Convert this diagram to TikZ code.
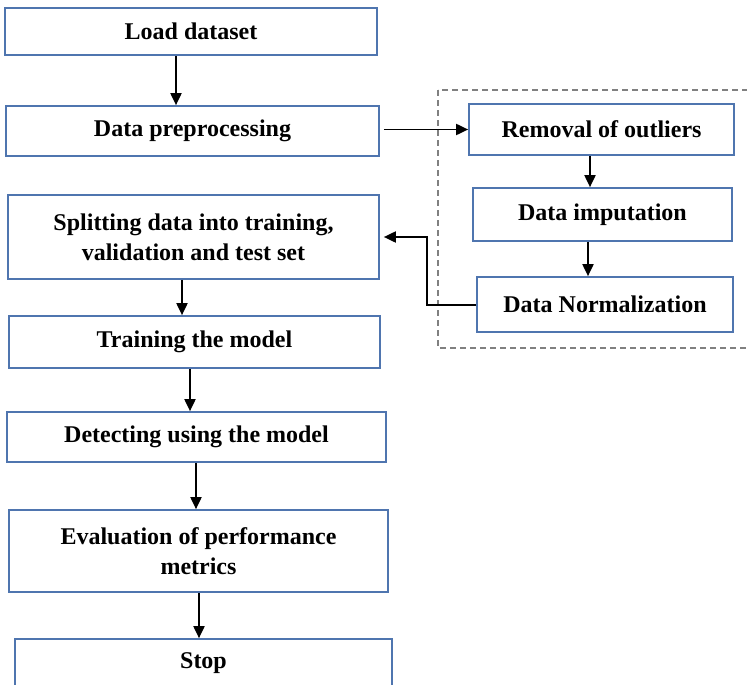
\documentclass[tikz,border=0pt]{standalone}
\usepackage{fontspec}
\setmainfont{Liberation Serif}
\usetikzlibrary{arrows.meta}
\definecolor{boxblue}{RGB}{79,117,175}
\definecolor{dashgray}{RGB}{128,128,128}
\tikzset{
  stepbox/.style={draw=boxblue, line width=1.7pt, fill=white, inner sep=0pt,
    align=center, font=\bfseries\fontsize{24}{30}\selectfont, text=black},
  arr/.style={line width=1.9pt, draw=black, -{Triangle[length=12pt,width=11pt]}},
  dashbox/.style={draw=dashgray, line width=1.2pt, dash pattern=on 6pt off 4pt}
}
\begin{document}
\begin{tikzpicture}[x=1pt,y=-1pt]
\useasboundingbox (0,0) rectangle (747,685);
\clip (0,0) rectangle (747,685);
\fill[white] (0,0) rectangle (747,685);
\draw[dashbox] (438,90) rectangle (770,348);
\node[stepbox, minimum width=372pt, minimum height=47pt] (load) at (191,31.5) {Load dataset};
\node[stepbox, minimum width=373pt, minimum height=50pt] (prep) at (192.5,131) {Data preprocessing};
\node[stepbox, minimum width=371pt, minimum height=84pt] (split) at (193.5,237) {Splitting data into training,\\validation and test set};
\node[stepbox, minimum width=371pt, minimum height=52pt] (train) at (194.5,342) {Training the model};
\node[stepbox, minimum width=379pt, minimum height=50pt] (detect) at (196.5,437) {Detecting using the model};
\node[stepbox, minimum width=379pt, minimum height=82pt] (eval) at (198.5,551) {Evaluation of performance\\metrics};
\node[stepbox, minimum width=377pt, minimum height=48pt] (stop) at (203.5,663) {Stop};
\node[stepbox, minimum width=265pt, minimum height=51pt] (rem) at (601.5,129.5) {Removal of outliers};
\node[stepbox, minimum width=259pt, minimum height=53pt] (imp) at (602.5,214.5) {Data imputation};
\node[stepbox, minimum width=256pt, minimum height=55pt] (norm) at (605,304.5) {Data Normalization};
\coordinate (bend1) at (427,305);
\coordinate (bend2) at (427,237);
\draw[arr] (load.south -| 176,0) -- (prep.north -| 176,0);
\draw[arr] ([xshift=4pt]prep.east |- rem.west) -- (rem.west);
\draw[arr] (rem.south -| 590,0) -- (imp.north -| 590,0);
\draw[arr] (imp.south -| 588,0) -- (norm.north -| 588,0);
\draw[arr] (norm.west |- bend1) -- (bend1) -- (bend2) -- ([xshift=4pt]split.east);
\draw[arr] (split.south -| 182,0) -- (train.north -| 182,0);
\draw[arr] (train.south -| 190,0) -- (detect.north -| 190,0);
\draw[arr] (detect.south -| 196,0) -- (eval.north -| 196,0);
\draw[arr] (eval.south -| 199,0) -- (stop.north -| 199,0);
\end{tikzpicture}
\end{document}
